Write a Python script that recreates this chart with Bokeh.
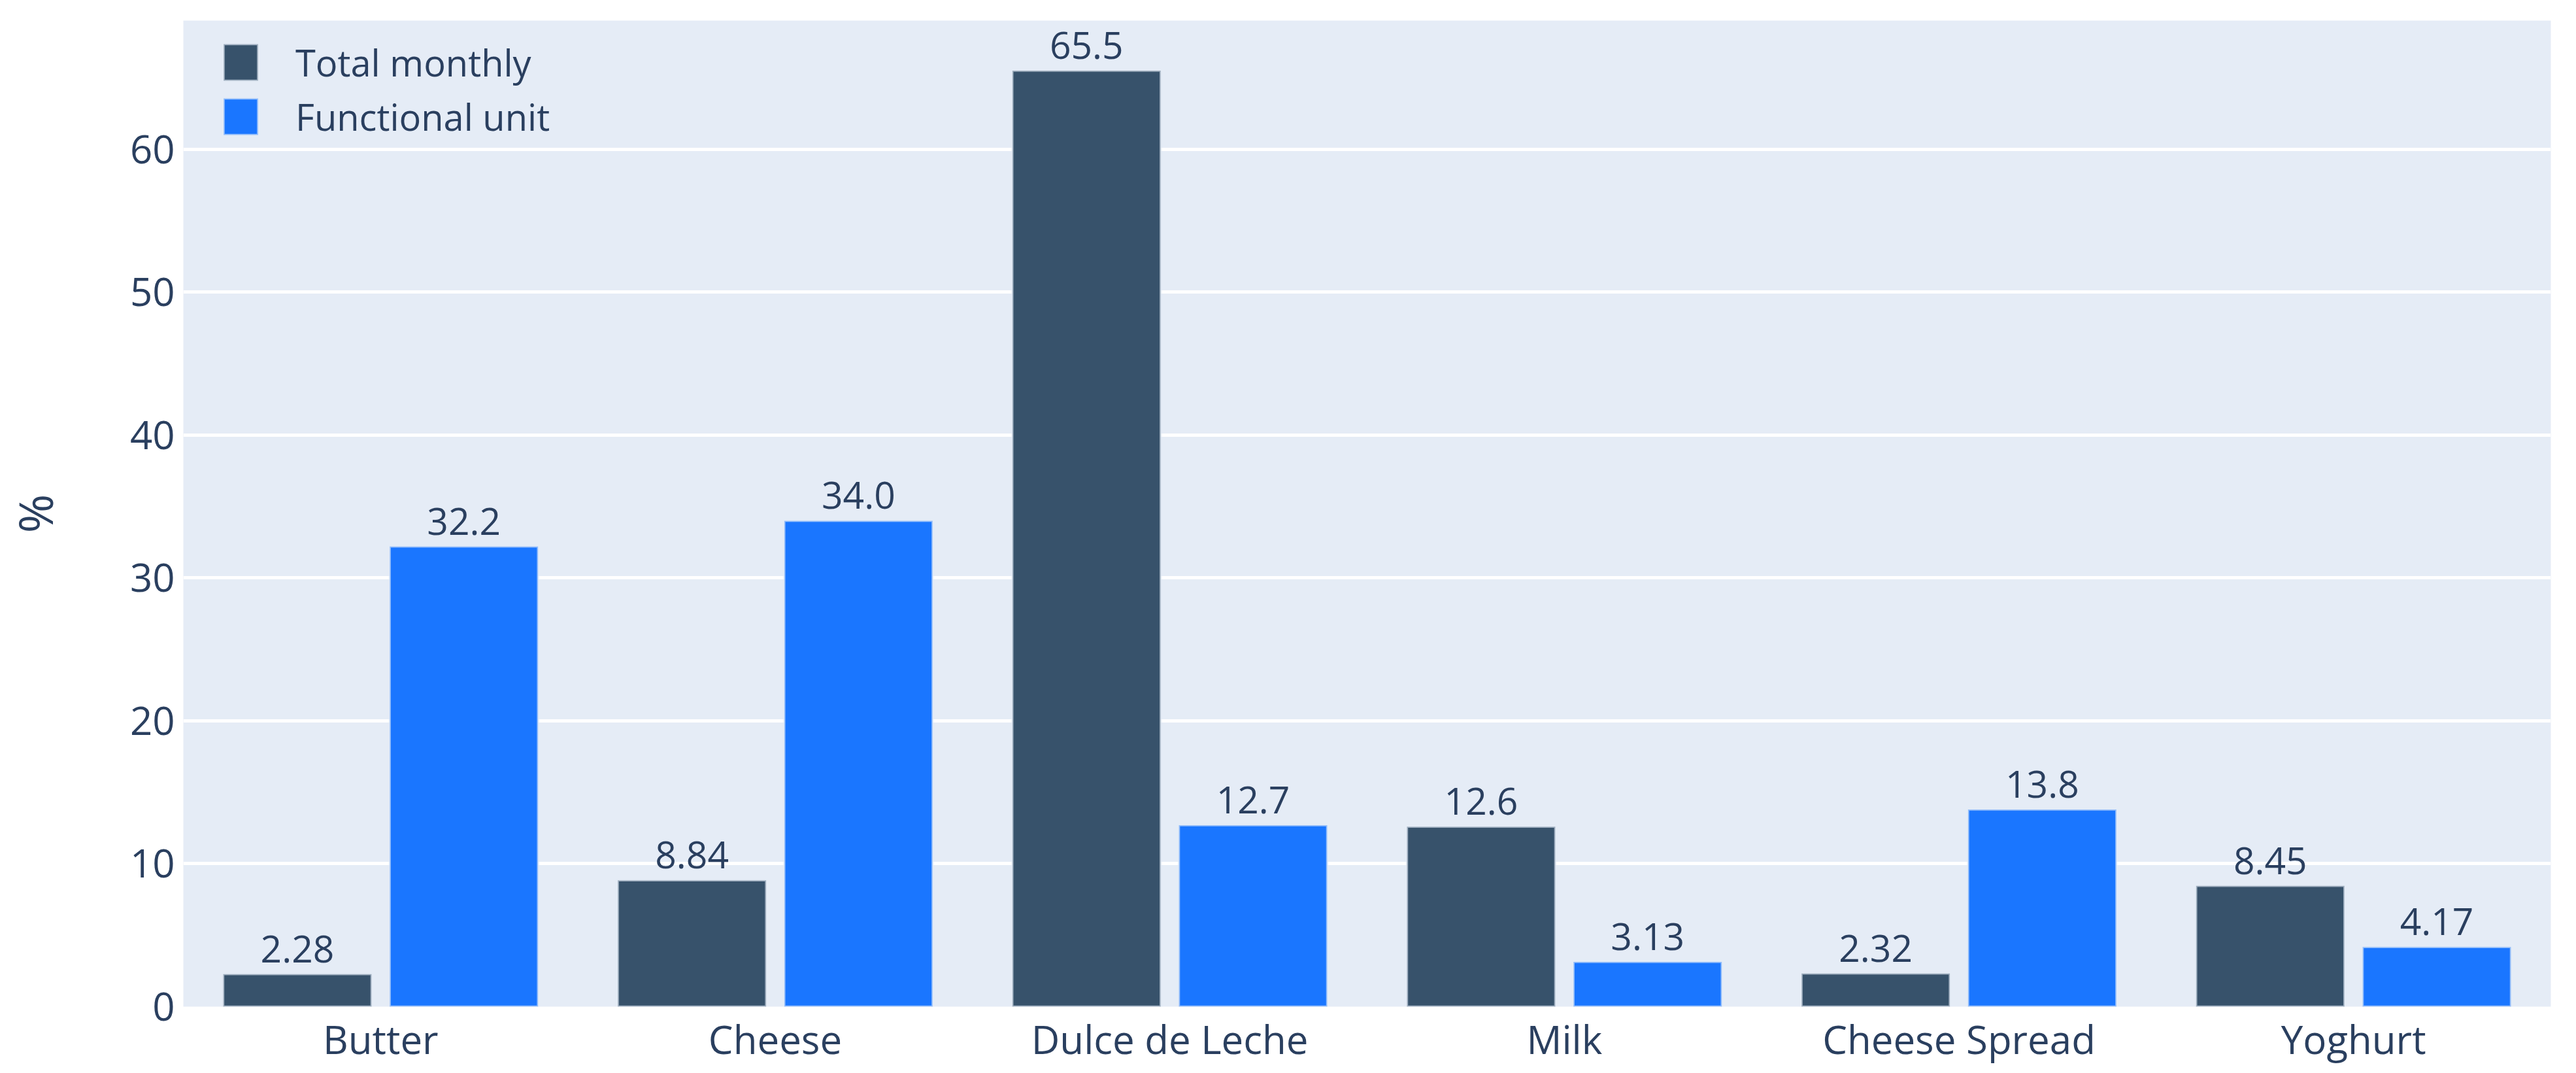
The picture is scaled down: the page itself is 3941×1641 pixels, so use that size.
from bokeh.plotting import figure
from bokeh.models import (FactorRange, Range1d, FixedTicker, Legend, LegendItem,
                          ColumnDataSource)
from bokeh.transform import dodge
from bokeh.core.properties import value
from bokeh.embed import file_html
from bokeh.resources import INLINE

# ---- data ----
categories = ["Butter", "Cheese", "Dulce de Leche", "Milk", "Cheese Spread", "Yoghurt"]
total_monthly = [2.28, 8.84, 65.5, 12.6, 2.32, 8.45]
functional_unit = [32.2, 34.0, 12.7, 3.13, 13.8, 4.17]
series_names = ["Total monthly", "Functional unit"]
y_ticks = [0, 10, 20, 30, 40, 50, 60]
y_label = "%"

# ---- style ----
FONT = "Open Sans"
TEXT = "#2a3f5f"
COLORS = ["#37526b", "#1a76ff"]
BG = "#E5ECF6"
OFF = 0.211
BAR_W = 0.376


def fmt(v):
    return f"{v:#.3g}"


src = ColumnDataSource(dict(
    cat=categories,
    tm=total_monthly,
    fu=functional_unit,
    tm_lbl=[fmt(v) for v in total_monthly],
    fu_lbl=[fmt(v) for v in functional_unit],
))

p = figure(x_range=FactorRange(factors=categories, range_padding=0),
           y_range=Range1d(0, 69),
           frame_width=3622, frame_height=1508,
           output_backend="svg", toolbar_location=None,
           min_border_left=271, min_border_right=32,
           min_border_top=31, min_border_bottom=84)

p.background_fill_color = BG
p.border_fill_color = "white"
p.outline_line_color = None

r1 = p.vbar(x=dodge("cat", -OFF, range=p.x_range), top="tm", width=BAR_W, source=src,
            fill_color=COLORS[0], line_color=BG, line_width=3.5, line_alpha=0.6)
r2 = p.vbar(x=dodge("cat", OFF, range=p.x_range), top="fu", width=BAR_W, source=src,
            fill_color=COLORS[1], line_color=BG, line_width=3.5, line_alpha=0.6)

for key, lbl, off in (("tm", "tm_lbl", -OFF), ("fu", "fu_lbl", OFF)):
    p.text(x=dodge("cat", off, range=p.x_range), y=key, text=lbl, source=src,
           text_align="center", text_baseline="bottom", y_offset=-18,
           text_font=value(FONT), text_font_size="57px", text_color=TEXT)

# axes
p.yaxis.ticker = FixedTicker(ticks=y_ticks)
p.yaxis.axis_label = y_label
p.yaxis.axis_label_text_font = FONT
p.yaxis.axis_label_text_font_size = "72px"
p.yaxis.axis_label_text_font_style = "normal"
p.yaxis.axis_label_text_color = TEXT
p.yaxis.axis_label_standoff = 94
p.yaxis.major_label_standoff = 7

for ax in (p.xaxis, p.yaxis):
    ax.axis_line_color = None
    ax.major_tick_line_color = None
    ax.minor_tick_line_color = None
    ax.major_label_text_font = FONT
    ax.major_label_text_font_size = "60px"
    ax.major_label_text_color = TEXT

p.xaxis.major_label_standoff = 2

p.xgrid.grid_line_color = None
p.ygrid.grid_line_color = "white"
p.ygrid.grid_line_width = 5

legend = Legend(items=[LegendItem(label=series_names[0], renderers=[r1]),
                       LegendItem(label=series_names[1], renderers=[r2])],
                location=(55, 1323), padding=0, margin=0, spacing=7,
                glyph_width=66, glyph_height=70, label_standoff=51,
                label_text_font=FONT, label_text_font_size="56px",
                label_text_color=TEXT,
                background_fill_alpha=0, border_line_color=None)
p.add_layout(legend)

open("out.html", "w").write(file_html(p, INLINE))
